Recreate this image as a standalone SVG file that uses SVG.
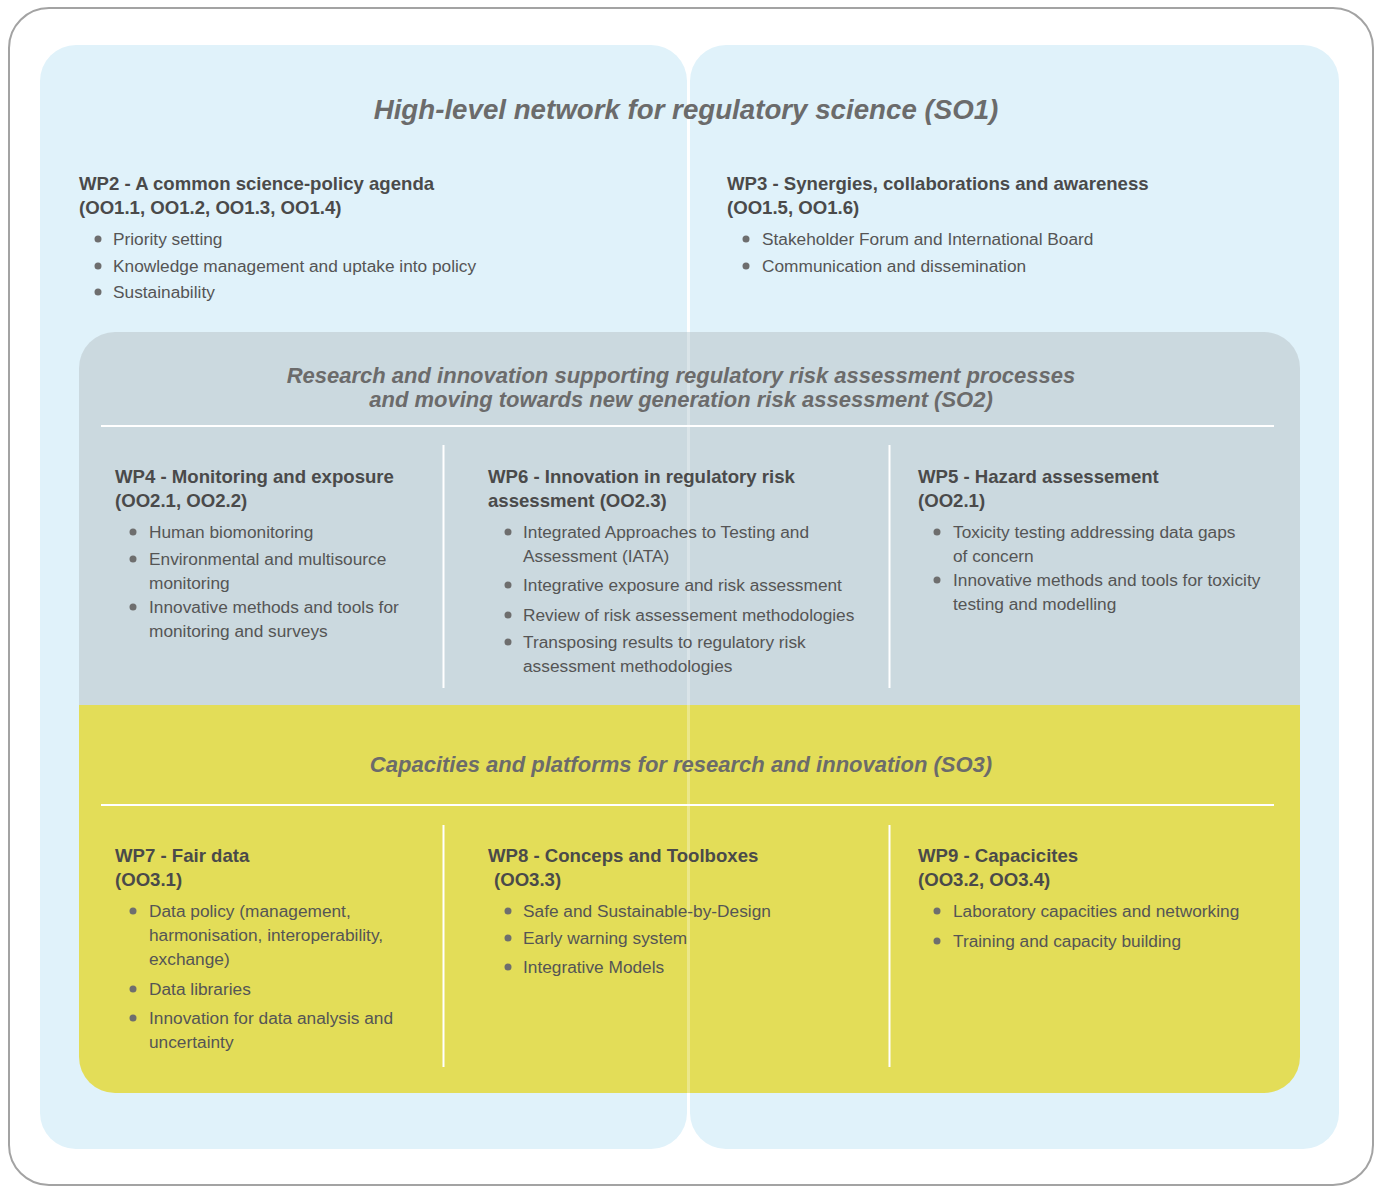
<svg xmlns="http://www.w3.org/2000/svg" width="1384" height="1186" viewBox="0 0 1384 1186">
<style>
text{font-family:"Liberation Sans",Arial,sans-serif;}
.h{font-size:18.6px;font-weight:bold;fill:#4a4a4a;}
.b{font-size:17.3px;fill:#555555;}
.t{font-weight:bold;font-style:italic;fill:#6b6b6b;text-anchor:middle;}
.dot{fill:#6e6e6e;}
.sep{stroke:#ffffff;stroke-width:2;}
</style>
<rect x="0" y="0" width="1384" height="1186" fill="#ffffff"/>
<rect x="9" y="8" width="1364" height="1177" rx="40" fill="#ffffff" stroke="#a3a3a3" stroke-width="2"/>
<g id="so1-left"><rect x="40" y="45" width="647" height="1104" rx="36" fill="#e0f2fa"/></g>
<g id="so1-right"><rect x="690" y="45" width="649" height="1104" rx="36" fill="#e0f2fa"/></g>
<g id="so23-panel">
<path d="M115 332 H1264 A36 36 0 0 1 1300 368 V705 H79 V368 A36 36 0 0 1 115 332 Z" fill="#cbd9df"/>
<path d="M79 705 H1300 V1057 A36 36 0 0 1 1264 1093 H115 A36 36 0 0 1 79 1057 Z" fill="#e3dd58"/>
<line x1="688.5" y1="332" x2="688.5" y2="1093" stroke="#ffffff" stroke-width="3" stroke-opacity="0.3"/>
</g>
<g id="connectors">
<line class="sep" x1="101" y1="426" x2="1274" y2="426"/>
<line class="sep" x1="443.5" y1="445" x2="443.5" y2="688"/>
<line class="sep" x1="889.5" y1="445" x2="889.5" y2="688"/>
<line class="sep" x1="101" y1="805" x2="1274" y2="805"/>
<line class="sep" x1="443.5" y1="825" x2="443.5" y2="1067"/>
<line class="sep" x1="889.5" y1="825" x2="889.5" y2="1067"/>
</g>
<g id="so1-title"><text class="t" x="686" y="119" font-size="27.7">High-level network for regulatory science (SO1)</text></g>
<g id="wp2">
<text class="h" x="79" y="190">WP2 - A common science-policy agenda</text>
<text class="h" x="79" y="214">(OO1.1, OO1.2, OO1.3, OO1.4)</text>
<circle class="dot" cx="98" cy="239" r="3.5"/><text class="b" x="113" y="245">Priority setting</text>
<circle class="dot" cx="98" cy="266" r="3.5"/><text class="b" x="113" y="272">Knowledge management and uptake into policy</text>
<circle class="dot" cx="98" cy="292" r="3.5"/><text class="b" x="113" y="298">Sustainability</text>
</g>
<g id="wp3">
<text class="h" x="727" y="190">WP3 - Synergies, collaborations and awareness</text>
<text class="h" x="727" y="214">(OO1.5, OO1.6)</text>
<circle class="dot" cx="746" cy="239" r="3.5"/><text class="b" x="762" y="245">Stakeholder Forum and International Board</text>
<circle class="dot" cx="746" cy="266" r="3.5"/><text class="b" x="762" y="272">Communication and dissemination</text>
</g>
<g id="so2-title">
<text class="t" x="681" y="383" font-size="22">Research and innovation supporting regulatory risk assessment processes</text>
<text class="t" x="681" y="407" font-size="22">and moving towards new generation risk assessment (SO2)</text>
</g>
<g id="wp4">
<text class="h" x="115" y="483">WP4 - Monitoring and exposure</text>
<text class="h" x="115" y="507">(OO2.1, OO2.2)</text>
<circle class="dot" cx="133" cy="532" r="3.5"/><text class="b" x="149" y="538">Human biomonitoring</text>
<circle class="dot" cx="133" cy="559" r="3.5"/><text class="b" x="149" y="565">Environmental and multisource</text>
<text class="b" x="149" y="589">monitoring</text>
<circle class="dot" cx="133" cy="607" r="3.5"/><text class="b" x="149" y="613">Innovative methods and tools for</text>
<text class="b" x="149" y="637">monitoring and surveys</text>
</g>
<g id="wp6">
<text class="h" x="488" y="483">WP6 - Innovation in regulatory risk</text>
<text class="h" x="488" y="507">assessment (OO2.3)</text>
<circle class="dot" cx="508" cy="532" r="3.5"/><text class="b" x="523" y="538">Integrated Approaches to Testing and</text>
<text class="b" x="523" y="562">Assessment (IATA)</text>
<circle class="dot" cx="508" cy="585" r="3.5"/><text class="b" x="523" y="591">Integrative exposure and risk assessment</text>
<circle class="dot" cx="508" cy="615" r="3.5"/><text class="b" x="523" y="621">Review of risk assessement methodologies</text>
<circle class="dot" cx="508" cy="642" r="3.5"/><text class="b" x="523" y="648">Transposing results to regulatory risk</text>
<text class="b" x="523" y="672">assessment methodologies</text>
</g>
<g id="wp5">
<text class="h" x="918" y="483">WP5 - Hazard assessement</text>
<text class="h" x="918" y="507">(OO2.1)</text>
<circle class="dot" cx="937" cy="532" r="3.5"/><text class="b" x="953" y="538">Toxicity testing addressing data gaps</text>
<text class="b" x="953" y="562">of concern</text>
<circle class="dot" cx="937" cy="580" r="3.5"/><text class="b" x="953" y="586">Innovative methods and tools for toxicity</text>
<text class="b" x="953" y="610">testing and modelling</text>
</g>
<g id="so3-title"><text class="t" x="681" y="772" font-size="22">Capacities and platforms for research and innovation (SO3)</text></g>
<g id="wp7">
<text class="h" x="115" y="862">WP7 - Fair data</text>
<text class="h" x="115" y="886">(OO3.1)</text>
<circle class="dot" cx="133" cy="911" r="3.5"/><text class="b" x="149" y="917">Data policy (management,</text>
<text class="b" x="149" y="941">harmonisation, interoperability,</text>
<text class="b" x="149" y="965">exchange)</text>
<circle class="dot" cx="133" cy="989" r="3.5"/><text class="b" x="149" y="995">Data libraries</text>
<circle class="dot" cx="133" cy="1018" r="3.5"/><text class="b" x="149" y="1024">Innovation for data analysis and</text>
<text class="b" x="149" y="1048">uncertainty</text>
</g>
<g id="wp8">
<text class="h" x="488" y="862">WP8 - Conceps and Toolboxes</text>
<text class="h" x="494" y="886">(OO3.3)</text>
<circle class="dot" cx="508" cy="911" r="3.5"/><text class="b" x="523" y="917">Safe and Sustainable-by-Design</text>
<circle class="dot" cx="508" cy="938" r="3.5"/><text class="b" x="523" y="944">Early warning system</text>
<circle class="dot" cx="508" cy="967" r="3.5"/><text class="b" x="523" y="973">Integrative Models</text>
</g>
<g id="wp9">
<text class="h" x="918" y="862">WP9 - Capacicites</text>
<text class="h" x="918" y="886">(OO3.2, OO3.4)</text>
<circle class="dot" cx="937" cy="911" r="3.5"/><text class="b" x="953" y="917">Laboratory capacities and networking</text>
<circle class="dot" cx="937" cy="941" r="3.5"/><text class="b" x="953" y="947">Training and capacity building</text>
</g>
</svg>
